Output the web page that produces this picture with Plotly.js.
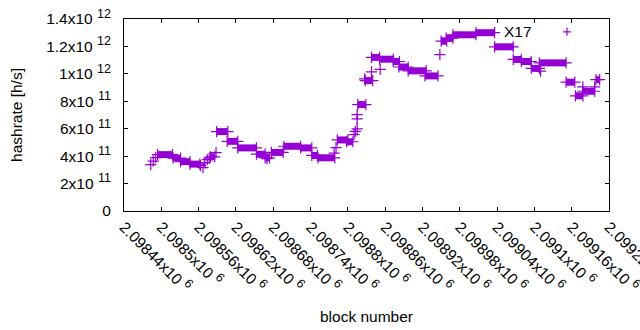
<!DOCTYPE html>
<html>
<head>
<meta charset="utf-8">
<script src="https://cdn.plot.ly/plotly-3.0.1.min.js"></script>
<style>html,body{margin:0;padding:0;background:#fff;}#chart{width:640px;height:330px;}</style>
</head>
<body>
<div id="chart"></div>
<script>
// Flat runs of the hashrate estimate: start block, end block, value (h/s)
const segStart = [2098494,2098519,2098531,2098546,2098579,2098589,2098606,2098623,2098653,2098667,2098677,2098697,2098724,2098742,2098752,2098783,2098798,2098816,2098828,2098838,2098851,2098873,2098882,2098897,2098924,2098950,2098958,2098969,2099006,2099036,2099066,2099079,2099095,2099108,2099151,2099166,2099178,2099199];
const segEnd   = [2098518,2098531,2098546,2098562,2098586,2098607,2098623,2098653,2098667,2098674,2098696,2098724,2098742,2098751,2098779,2098800,2098808,2098829,2098840,2098851,2098873,2098883,2098897,2098926,2098945,2098959,2098969,2099006,2099036,2099066,2099079,2099095,2099108,2099151,2099165,2099178,2099197,2099205];
const segValue = [4.11e11,3.85e11,3.60e11,3.42e11,3.95e11,5.79e11,5.08e11,4.60e11,4.14e11,3.88e11,4.27e11,4.72e11,4.60e11,4.05e11,3.88e11,5.18e11,5.05e11,7.76e11,9.51e11,11.2e11,11.07e11,10.9e11,10.5e11,10.22e11,9.85e11,12.38e11,12.6e11,12.85e11,13.0e11,11.97e11,11.05e11,10.9e11,10.4e11,10.8e11,9.39e11,8.40e11,8.73e11,9.58e11];
// Isolated blocks
const ptBlock = [2098483,2098487,2098491,2098563,2098567,2098570,2098574,2098577,2098588,2098670,2098778,2098781,2098810,2098812,2098815,2098815,2098815,2098827,2098838,2098852,2098948,2099110,2099178,2099197];
const ptValue = [3.38e11,3.63e11,3.89e11,3.31e11,3.16e11,3.53e11,3.74e11,3.85e11,4.25e11,3.82e11,4.22e11,4.62e11,5.57e11,5.81e11,5.99e11,6.72e11,7.03e11,9.63e11,10.15e11,10.32e11,11.4e11,10.2e11,9.05e11,9.05e11];

const SUP = s => " <sup><span style='font-size:12.5px'>" + s + "</span></sup>";
const xTickVals = [2098440,2098500,2098560,2098620,2098680,2098740,2098800,2098860,2098920,2098980,2099040,2099100,2099160,2099220];
const xTickText = ["2.09844x10" + SUP(6),"2.0985x10" + SUP(6),"2.09856x10" + SUP(6),"2.09862x10" + SUP(6),"2.09868x10" + SUP(6),"2.09874x10" + SUP(6),"2.0988x10" + SUP(6),"2.09886x10" + SUP(6),"2.09892x10" + SUP(6),"2.09898x10" + SUP(6),"2.09904x10" + SUP(6),"2.0991x10" + SUP(6),"2.09916x10" + SUP(6),"2.09922x10" + SUP(6)];
const yTickVals = [0,2e11,4e11,6e11,8e11,10e11,12e11,14e11];
const yTickText = ["0","2x10" + SUP(11),"4x10" + SUP(11),"6x10" + SUP(11),"8x10" + SUP(11),"1x10" + SUP(12),"1.2x10" + SUP(12),"1.4x10" + SUP(12)];

const COLOR = "#9400d3";
const segX = [], segY = [];
for (let i = 0; i < segStart.length; i++) {
  segX.push(segStart[i], segEnd[i], null);
  segY.push(segValue[i], segValue[i], null);
}
const markerStyle = {symbol: "cross-thin", size: 8, color: COLOR, line: {color: COLOR, width: 1.2}};
const traces = [
  {type: "scatter", mode: "lines+markers", x: segX, y: segY, line: {color: COLOR, width: 7}, marker: markerStyle, connectgaps: false, showlegend: false, hoverinfo: "none"},
  {type: "scatter", mode: "markers", x: ptBlock, y: ptValue, marker: markerStyle, showlegend: false, hoverinfo: "none"}
];

const font = {family: "Liberation Sans, Arial, sans-serif", size: 15.5, color: "#000"};
const lx = 0.9134, ly = 0.933, dx = 4/485, dy = 4/191.8;
const layout = {
  width: 640, height: 330,
  margin: {l: 124, r: 31, t: 19, b: 119, pad: 0},
  paper_bgcolor: "#fff", plot_bgcolor: "#fff",
  font: font,
  showlegend: false,
  xaxis: {
    range: [2098440, 2099220], tickvals: xTickVals, ticktext: xTickText, tickangle: 45,
    ticks: "inside", ticklen: 4, tickcolor: "#000", showline: true, linecolor: "#000", linewidth: 1, mirror: "allticks",
    showgrid: false, zeroline: false, tickfont: font, ticklabeloverflow: "allow",
    title: {text: "block number", font: font, standoff: 16}
  },
  yaxis: {
    range: [0, 1.4e12], tickvals: yTickVals, ticktext: yTickText,
    ticks: "inside", ticklen: 4, tickcolor: "#000", showline: true, linecolor: "#000", linewidth: 1, mirror: "allticks",
    showgrid: false, zeroline: false, tickfont: font, ticklabelstandoff: 9,
    title: {text: "hashrate [h/s]", font: font, standoff: 19}
  },
  annotations: [
    {xref: "paper", yref: "paper", x: 0.845, y: ly, xanchor: "right", yanchor: "middle", text: "X17", showarrow: false, font: font}
  ],
  shapes: [
    {type: "line", xref: "paper", yref: "paper", x0: lx - dx, x1: lx + dx, y0: ly, y1: ly, line: {color: COLOR, width: 1.2}},
    {type: "line", xref: "paper", yref: "paper", x0: lx, x1: lx, y0: ly - dy, y1: ly + dy, line: {color: COLOR, width: 1.2}}
  ]
};
Plotly.newPlot("chart", traces, layout, {staticPlot: true, displayModeBar: false});
</script>
</body>
</html>
